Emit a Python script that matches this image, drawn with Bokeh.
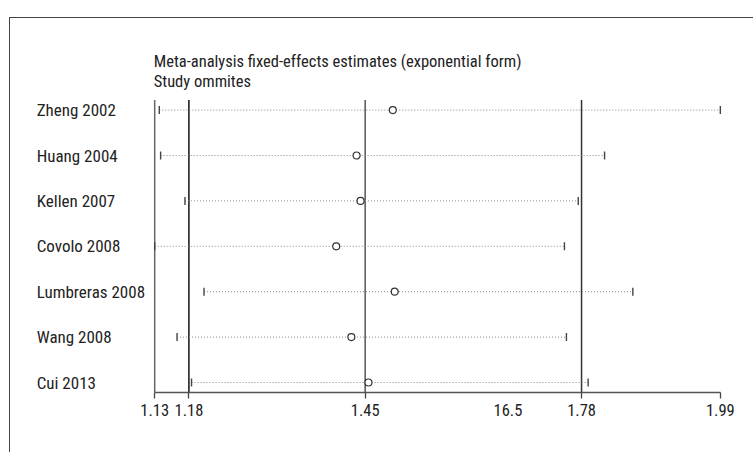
from bokeh.plotting import figure
from bokeh.models import LinearAxis, FixedTicker, Range1d, ColumnDataSource
from bokeh.core.properties import value
from bokeh.embed import file_html
from bokeh.resources import INLINE

# ---- data ----
studies = ["Zheng 2002", "Huang 2004", "Kellen 2007", "Covolo 2008",
           "Lumbreras 2008", "Wang 2008", "Cui 2013"]
estimate = [1.492, 1.437, 1.443, 1.406, 1.495, 1.429, 1.455]
lower_ci = [1.137, 1.139, 1.176, 1.130, 1.205, 1.164, 1.186]
upper_ci = [1.990, 1.814, 1.774, 1.753, 1.857, 1.756, 1.789]

overall_lines = [1.182, 1.450, 1.779]      # lower CI, estimate, upper CI
axis_min, axis_max = 1.13, 1.99
tick_values = [1.13, 1.182, 1.450, 1.779, 1.99]
tick_labels = ["1.13", "1.18", "1.45", "1.78", "1.99"]
extra_label_pos = [1.667]
extra_label_text = ["16.5"]

title_lines = ["Meta-analysis fixed-effects estimates (exponential form)",
               "Study ommites"]

FONT = "Roboto Condensed"

n = len(studies)
rows = list(range(n, 0, -1))

px_per_unit = 657.7
x0 = axis_min - 144.2 / px_per_unit
x1 = x0 + 736 / px_per_unit
row_px = 45.4
y0 = 1 - 10.0 / row_px
y1 = y0 + 374 / row_px

p = figure(frame_width=736, frame_height=374,
           x_range=Range1d(x0, x1), y_range=Range1d(y0, y1),
           output_backend="svg", toolbar_location=None,
           x_axis_location=None, y_axis_location=None,
           min_border_left=0, min_border_right=7, min_border_top=0,
           min_border_bottom=60)
p.outline_line_color = None
p.grid.visible = False
p.background_fill_color = "white"
p.border_fill_color = "white"
p.margin = (17, 0, 0, 9)
p.styles = {"border-top": "1px solid #444", "border-left": "1px solid #444"}

# x axis
overrides = {v: l for v, l in zip(tick_values, tick_labels)}
for v, l in zip(extra_label_pos, extra_label_text):
    overrides[v] = l
axis = LinearAxis(
    ticker=FixedTicker(ticks=tick_values + extra_label_pos, minor_ticks=tick_values),
    bounds=(axis_min, axis_max),
    major_label_overrides=overrides)
axis.axis_line_color = "#555555"
axis.axis_line_width = 1.6
axis.major_tick_line_color = None
axis.major_tick_out = 6
axis.major_tick_in = 0
axis.minor_tick_line_color = "#444444"
axis.minor_tick_line_width = 1.3
axis.minor_tick_out = 6
axis.minor_tick_in = 0
axis.major_label_standoff = 5
axis.major_label_text_font = FONT
axis.major_label_text_font_size = "16.5px"
axis.major_label_text_color = "#222222"
p.add_layout(axis, "below")

# vertical reference lines
top_y = n + 10.0 / row_px
vx = [axis_min] + overall_lines
vcol = ["#666666", "#111111", "#555555", "#333333"]
p.segment(x0=vx, y0=[y0] * len(vx), x1=vx, y1=[top_y] * len(vx),
          line_color=vcol, line_width=1.5)

src = ColumnDataSource(dict(study=studies, y=rows, est=estimate,
                            lo=lower_ci, hi=upper_ci))
# dotted CI lines
p.segment(x0="lo", y0="y", x1="hi", y1="y", source=src,
          line_color="#888888", line_width=1, line_dash="1 2")
# end caps
cap = 4.0 / row_px
src_caps = ColumnDataSource(dict(
    x=lower_ci + upper_ci,
    ya=[r - cap for r in rows] * 2,
    yb=[r + cap for r in rows] * 2))
p.segment(x0="x", y0="ya", x1="x", y1="yb", source=src_caps,
          line_color="#444444", line_width=1.4)
# estimates
p.scatter(x="est", y="y", source=src, size=7, marker="circle",
          fill_color="white", line_color="#333333", line_width=1.2)

# study labels
label_x = axis_min - 118.0 / px_per_unit
p.text(x=[label_x] * n, y=rows, text=studies, text_font=value(FONT),
       text_font_size="17px", text_color="#222222",
       text_baseline="middle", text_align="left")

# title lines
p.text(x=[axis_min - 1.0 / px_per_unit] * 2,
       y=[n + 48.3 / row_px, n + 28.3 / row_px], text=title_lines,
       text_font=value(FONT), text_font_size="16.5px", text_color="#222222",
       text_baseline="middle", text_align="left")

open("out.html", "w").write(file_html(p, INLINE))
